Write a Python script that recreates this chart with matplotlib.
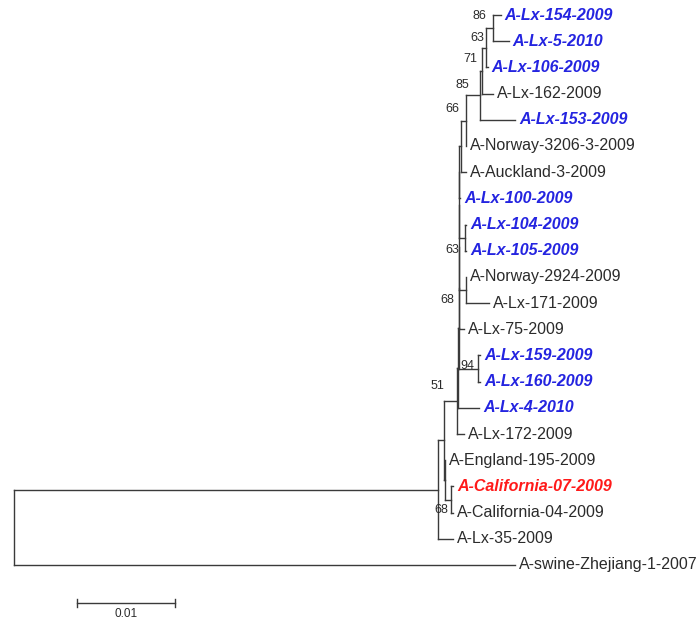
import matplotlib
matplotlib.use("Agg")
import matplotlib.pyplot as plt

# Tree data
#################################################################################################################

# leaves, top to bottom
leaf_names = ["A-Lx-154-2009", "A-Lx-5-2010", "A-Lx-106-2009", "A-Lx-162-2009", "A-Lx-153-2009",
              "A-Norway-3206-3-2009", "A-Auckland-3-2009", "A-Lx-100-2009", "A-Lx-104-2009",
              "A-Lx-105-2009", "A-Norway-2924-2009", "A-Lx-171-2009", "A-Lx-75-2009",
              "A-Lx-159-2009", "A-Lx-160-2009", "A-Lx-4-2010", "A-Lx-172-2009",
              "A-England-195-2009", "A-California-07-2009", "A-California-04-2009",
              "A-Lx-35-2009", "A-swine-Zhejiang-1-2007"]
leaf_parent = ["n86", "n86", "n63a", "n71", "n85", "n66", "nak", "k1", "n63b", "n63b", "n68", "n68",
               "k4", "n94", "n94", "k6", "c", "d", "e", "e", "a", "root"]
leaf_length = [0.00082, 0.00163, 0.0002, 0.00112, 0.00357, 0.0, 0.0005, 0.0001, 0.0001, 0.0001,
               0.0, 0.00235, 0.0005, 0.0002, 0.0002, 0.00214, 0.00071, 0.0, 0.0002, 0.0002,
               0.00153, 0.05112]
leaf_group = ["lx", "lx", "lx", "plain", "lx", "plain", "plain", "lx", "lx", "lx", "plain", "plain",
              "plain", "lx", "lx", "lx", "plain", "plain", "ref", "plain", "plain", "plain"]

# internal nodes
node_names = ["root", "a", "b", "d", "e", "c", "k6", "k5", "k4", "k3", "k2", "k1",
              "nak", "n66", "n85", "n71", "n63a", "n86", "n63b", "n68", "n94"]
node_parent = [None, "root", "a", "b", "d", "b", "c", "k6", "k5", "k4", "k3", "k2",
               "k1", "nak", "n66", "n85", "n71", "n63a", "k2", "k3", "k5"]
node_length = [0.0, 0.04327, 0.00061, 0.0001, 0.0006, 0.00133, 0.0001, 0.0001, 0.0, 0.0, 0.0, 0.0,
               0.0002, 0.0005, 0.00143, 0.0002, 0.0004, 0.00071, 0.0006, 0.0007, 0.00194]

# bootstrap values
support_nodes = ["n86", "n63a", "n71", "n85", "n66", "n63b", "n68", "n94", "c", "e"]
support_values = [86, 63, 71, 85, 66, 63, 68, 94, 51, 68]

scale_length = 0.01
scale_label = "0.01"

# Layout
#################################################################################################################

parent = {}
length = {}
for n, p, l in zip(node_names, node_parent, node_length):
    parent[n] = p
    length[n] = l
for n, p, l in zip(leaf_names, leaf_parent, leaf_length):
    parent[n] = p
    length[n] = l

children = {n: [] for n in node_names}
for n in node_names[1:] + leaf_names:
    children[parent[n]].append(n)

X = {}
def get_x(n):
    if n not in X:
        X[n] = 0.0 if parent[n] is None else get_x(parent[n]) + length[n]
    return X[n]

Y = {n: float(i) for i, n in enumerate(leaf_names)}
def get_y(n):
    if n not in Y:
        ys = [get_y(c) for c in children[n]]
        Y[n] = (min(ys) + max(ys)) / 2
    return Y[n]

for n in node_names + leaf_names:
    get_x(n)
    get_y(n)

# Plot
#################################################################################################################

line_c = "#3a3a3a"
colors_txt = {"plain": "#2b2b2b", "lx": "#2424e0", "ref": "#ff1a1a"}

fig = plt.figure(figsize=(6.99, 6.19), dpi=100)
ax = fig.add_axes([0, 0, 1, 1])
px = 0.01 / 98  # distance per pixel
ax.set_xlim(-14 * px, 685 * px)
ax.set_ylim((619 - 15) / 26.19, -15 / 26.19)
ax.axis("off")

lw = 1.0
for n in node_names[1:] + leaf_names:
    p = parent[n]
    ax.plot([X[p], X[n]], [Y[n], Y[n]], color=line_c, lw=lw, solid_capstyle="projecting")
for n in node_names:
    ys = [Y[c] for c in children[n]]
    ax.plot([X[n], X[n]], [min(ys), max(ys)], color=line_c, lw=lw, solid_capstyle="projecting")

for n, g in zip(leaf_names, leaf_group):
    kw = dict(fontsize=11.5, family="Liberation Sans", color=colors_txt[g])
    if g != "plain":
        kw.update(fontweight="bold", fontstyle="italic")
    ax.annotate(n, (X[n], Y[n]), xytext=(4, 0), textcoords="offset pixels",
                ha="left", va="center", **kw)

offsets = {"n86": (-6, 12), "n63a": (-2, 10), "n71": (-5, 12), "n85": (-11, 10), "n66": (-7, 12),
           "n63b": (-6, -12), "n68": (-12, -10), "n94": (-4, 3), "c": (-13, 15), "e": (-3, -10)}
for n, v in zip(support_nodes, support_values):
    ax.annotate(str(v), (X[n], Y[n]), xytext=offsets[n], textcoords="offset pixels",
                ha="right", va="center", fontsize=9, family="Liberation Sans", color="#2b2b2b")

# scale bar
sx0 = 63 * px
sy = (603 - 15) / 26.19
ax.plot([sx0, sx0 + scale_length], [sy, sy], color=line_c, lw=lw)
for xx in [sx0, sx0 + scale_length]:
    ax.plot([xx, xx], [sy - 0.15, sy + 0.15], color=line_c, lw=lw)
ax.annotate(scale_label, (sx0 + scale_length / 2, sy), xytext=(0, -11), textcoords="offset pixels",
            ha="center", va="center", fontsize=8.5, family="Liberation Sans", color="#2b2b2b")

fig.savefig("out.png", dpi=100)
